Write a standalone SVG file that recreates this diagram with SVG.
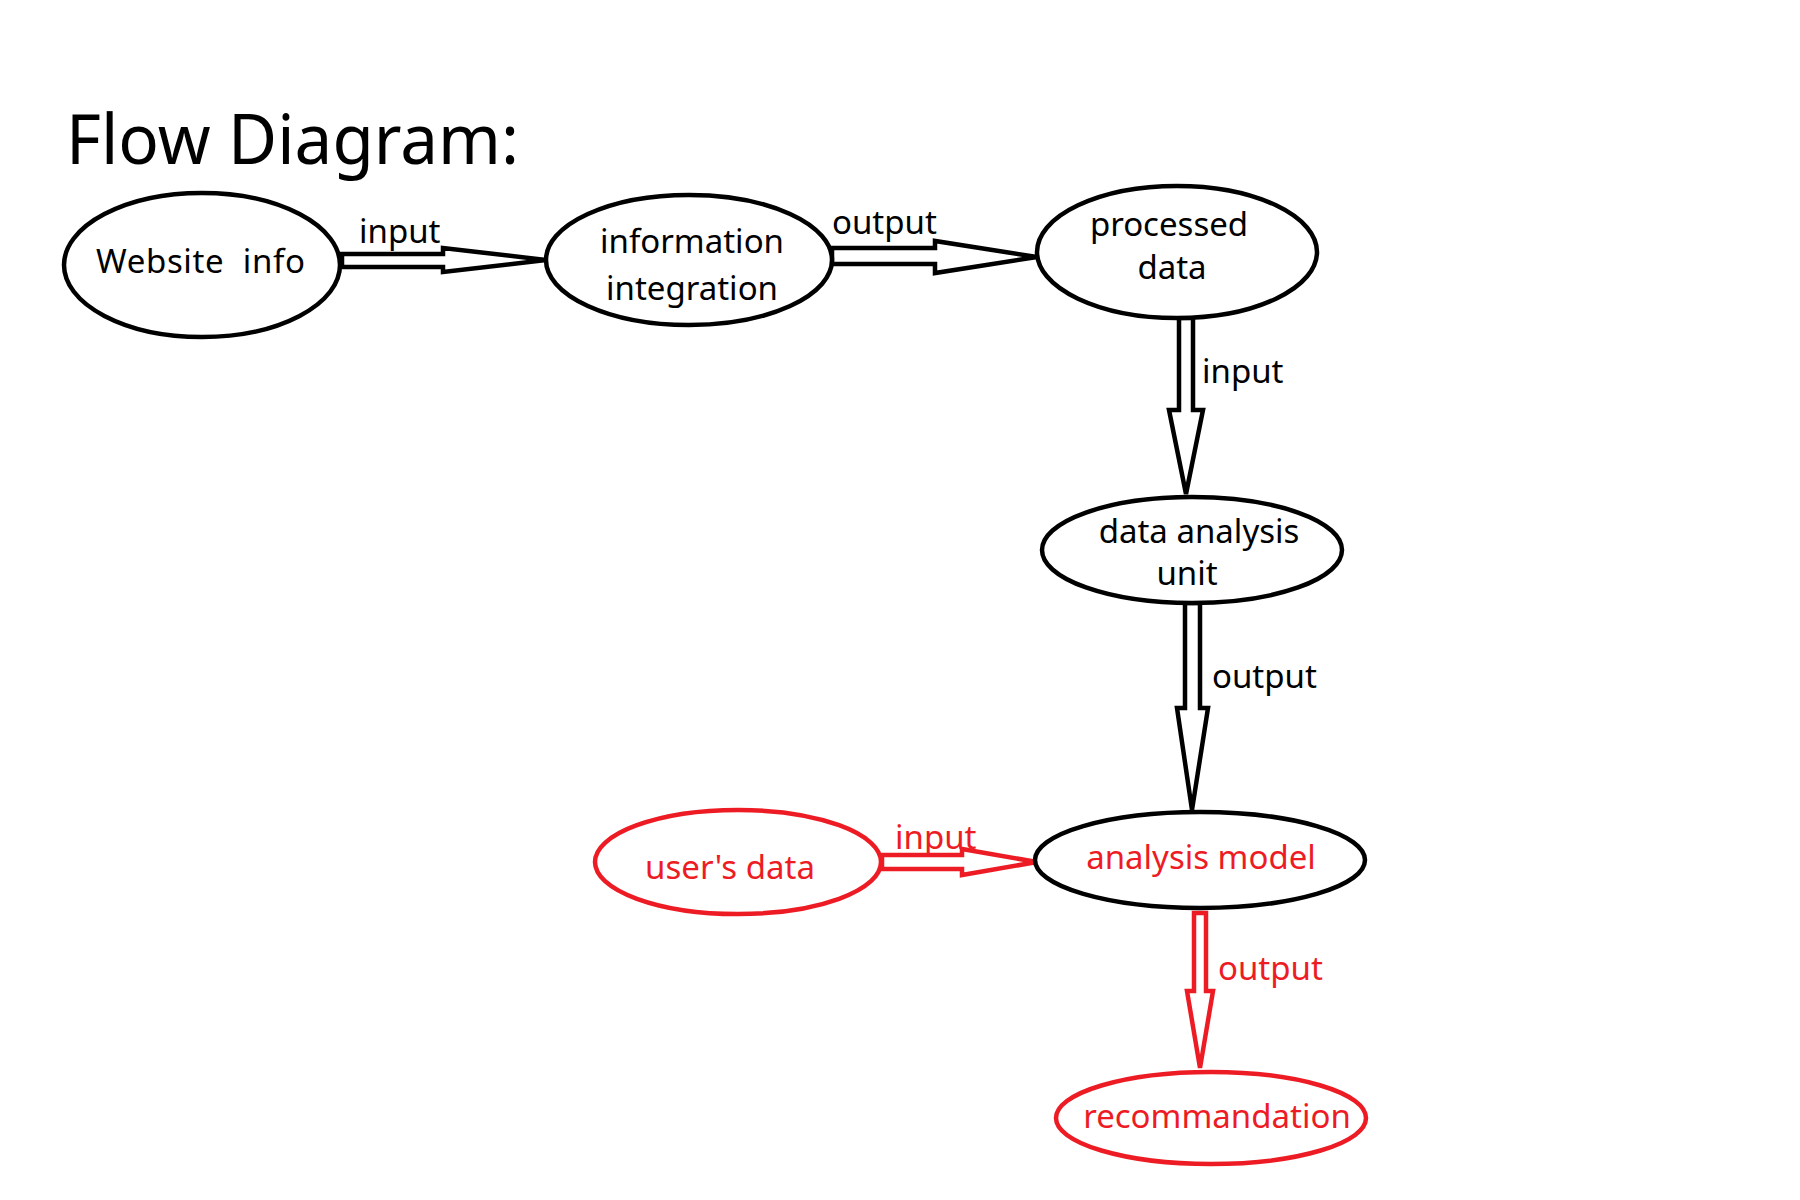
<svg xmlns="http://www.w3.org/2000/svg" width="1800" height="1200" viewBox="0 0 1800 1200">
<style>
  text { font-family: "Noto Sans", "Open Sans", "Liberation Sans", sans-serif; font-size: 33px; fill: #000; }
  .title { font-size: 69px; }
  .red { fill: #ED1C24; }
  .mid { text-anchor: middle; }
  ellipse { fill: #fff; stroke: #000; stroke-width: 4.5; }
  ellipse.r { stroke: #ED1C24; stroke-width: 4.5; }
  .arrow { fill: #fff; stroke: #000; stroke-width: 4.5; stroke-linejoin: miter; }
  .arrow.r { stroke: #ED1C24; }
</style>
<rect width="1800" height="1200" fill="#fff"/>
<text class="title" x="66" y="164" textLength="453" lengthAdjust="spacingAndGlyphs">Flow Diagram:</text>

<g id="connectors">
  <polygon class="arrow" points="342,254 443,254 443,248 546,260 443,272 443,267 342,267"/>
  <text x="359" y="243">input</text>
  <polygon class="arrow" points="832,248 935,248 935,241 1037,257 935,273 935,264 832,264"/>
  <text x="832" y="234">output</text>
  <polygon class="arrow" points="1179,318 1193,318 1193,410 1203,410 1186,494 1169,410 1179,410"/>
  <text x="1202" y="383">input</text>
  <polygon class="arrow" points="1185,603 1200,603 1200,708 1208,708 1192,810 1177,708 1185,708"/>
  <text x="1212" y="688">output</text>
  <polygon class="arrow r" points="882,855 962,855 962,849 1037,862 962,875 962,869 882,869"/>
  <text class="red" x="895" y="849">input</text>
  <polygon class="arrow r" points="1194,913 1206,913 1206,991 1213,991 1200,1068 1187,991 1194,991"/>
  <text class="red" x="1218" y="980">output</text>
</g>

<g id="website-info">
  <ellipse cx="202" cy="265" rx="138" ry="72"/>
  <text x="96" y="273" xml:space="preserve" textLength="209">Website  info</text>
</g>
<g id="information-integration">
  <ellipse cx="689" cy="260" rx="143" ry="65"/>
  <text class="mid" x="692" y="253">information</text>
  <text class="mid" x="692" y="300">integration</text>
</g>
<g id="processed-data">
  <ellipse cx="1177" cy="252" rx="140" ry="66"/>
  <text class="mid" x="1169" y="236">processed</text>
  <text class="mid" x="1172" y="279">data</text>
</g>
<g id="data-analysis-unit">
  <ellipse cx="1192" cy="550" rx="150" ry="53"/>
  <text class="mid" x="1199" y="543">data analysis</text>
  <text class="mid" x="1187" y="585">unit</text>
</g>
<g id="analysis-model">
  <ellipse cx="1200" cy="860" rx="165" ry="48"/>
  <text class="mid red" x="1201" y="869">analysis model</text>
</g>
<g id="users-data">
  <ellipse class="r" cx="738" cy="862" rx="143" ry="52"/>
  <text class="mid red" x="730" y="879">user's data</text>
</g>
<g id="recommandation">
  <ellipse class="r" cx="1211" cy="1118" rx="155" ry="46"/>
  <text class="mid red" x="1217" y="1128">recommandation</text>
</g>
</svg>
